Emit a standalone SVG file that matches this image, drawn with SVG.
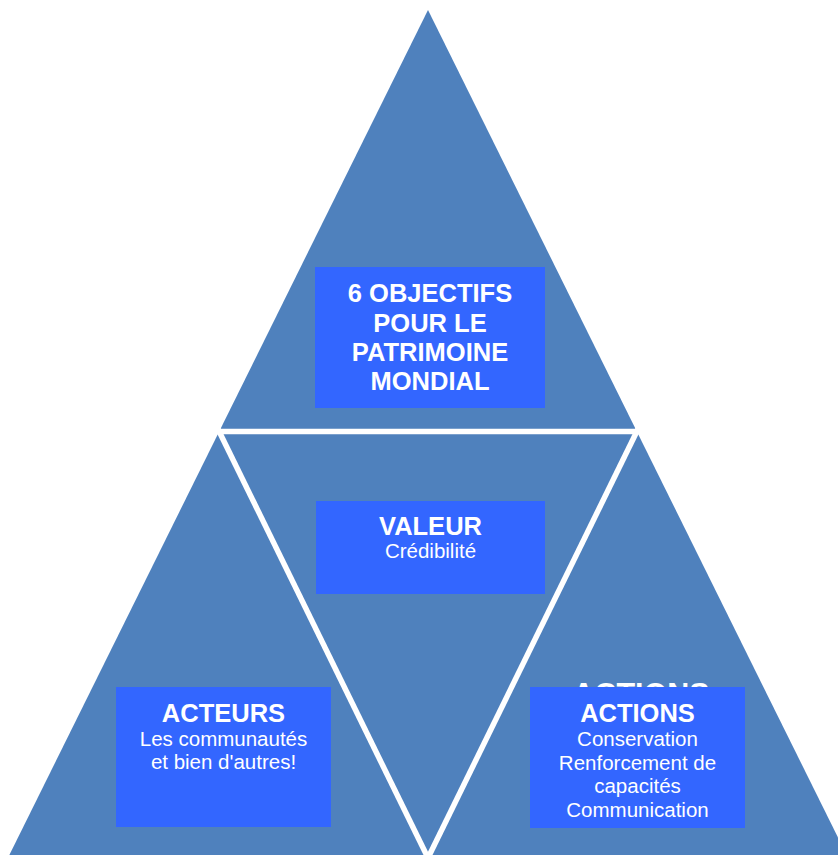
<svg xmlns="http://www.w3.org/2000/svg" width="838" height="855" viewBox="0 0 838 855">
<style>
.tri{fill:#4F81BD}
.box{fill:#3366FF}
.sep{stroke:#FFFFFF;stroke-width:5.5;fill:none;stroke-linecap:butt}
.t{font-family:"Liberation Sans",Arial,sans-serif;fill:#FFFFFF;text-anchor:middle}
.h{font-weight:bold;font-size:25.5px}
.b{font-size:20.5px}
</style>
<rect width="838" height="855" fill="#FFFFFF"/>
<g id="pyramid">
<polygon class="tri" points="428,10 -7,888 863,888"/>
</g>
<g id="connectors">
<line class="sep" x1="205" y1="431.5" x2="652" y2="431.5"/>
<line class="sep" x1="216" y1="425" x2="429" y2="860"/>
<line class="sep" x1="640" y1="425" x2="427" y2="860"/>
</g>
<g id="ghost">
<text class="t" x="641" y="705" style="font-weight:bold;font-size:30.5px">ACTIONS</text>
</g>
<g id="objectifs">
<rect class="box" x="315" y="267" width="230" height="141"/>
<text class="t h" x="430" y="302">6 OBJECTIFS</text>
<text class="t h" x="430" y="332">POUR LE</text>
<text class="t h" x="430" y="361">PATRIMOINE</text>
<text class="t h" x="430" y="390">MONDIAL</text>
</g>
<g id="valeur">
<rect class="box" x="316" y="501" width="229" height="93"/>
<text class="t h" x="430.5" y="535">VALEUR</text>
<text class="t b" x="430.5" y="558">Crédibilité</text>
</g>
<g id="acteurs">
<rect class="box" x="116" y="687" width="215" height="140"/>
<text class="t h" x="223.5" y="722">ACTEURS</text>
<text class="t b" x="223.5" y="746">Les communautés</text>
<text class="t b" x="223.5" y="769">et bien d'autres!</text>
</g>
<g id="actions">
<rect class="box" x="530" y="687" width="215" height="141"/>
<text class="t h" x="637.5" y="722">ACTIONS</text>
<text class="t b" x="637.5" y="746">Conservation</text>
<text class="t b" x="637.5" y="770">Renforcement de</text>
<text class="t b" x="637.5" y="793">capacités</text>
<text class="t b" x="637.5" y="817">Communication</text>
</g>
</svg>
